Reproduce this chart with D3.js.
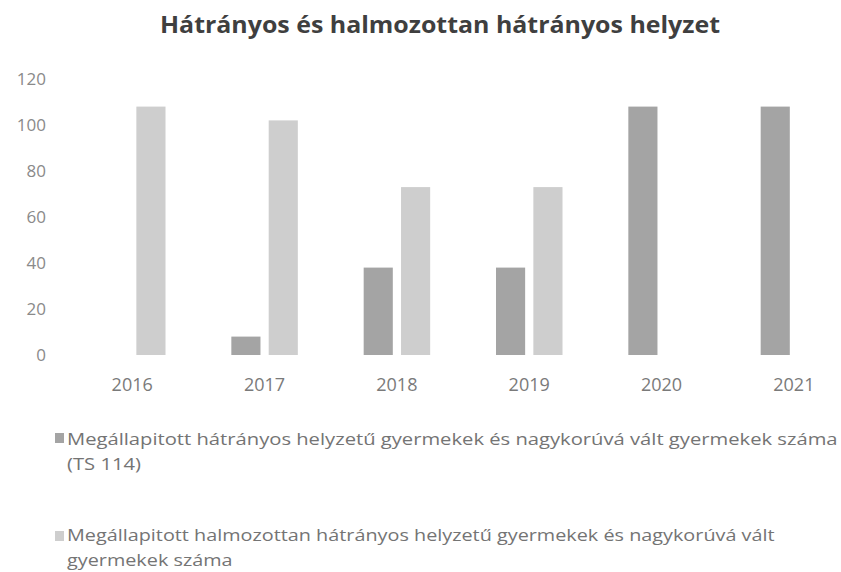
<!DOCTYPE html>
<html>
<head>
<meta charset="utf-8">
<script src="https://cdn.jsdelivr.net/npm/d3@7"></script>
<style>
  html, body { margin: 0; padding: 0; background: #fff; }
  svg { display: block; }
</style>
</head>
<body>
<svg id="chart" width="841" height="572"></svg>
<script>
const title = "Hátrányos és halmozottan hátrányos helyzet";
const years = ["2016", "2017", "2018", "2019", "2020", "2021"];
const seriesNames = [
  ["Megállapitott hátrányos helyzetű gyermekek és nagykorúvá vált gyermekek száma", "(TS 114)"],
  ["Megállapitott halmozottan hátrányos helyzetű gyermekek és nagykorúvá vált", "gyermekek száma"]
];
const hhValues = [0, 8, 38, 38, 108, 108];
const hhhValues = [108, 102, 73, 73, 0, 0];
const yTicks = [0, 20, 40, 60, 80, 100, 120];
const colors = ["#a4a4a4", "#cecece"];

const svg = d3.select("#chart");
const font = "'Open Sans', 'Noto Sans', sans-serif";

const rows = years.map((y, i) => ({ year: y, vals: [hhValues[i], hhhValues[i]] }));

const x0 = d3.scaleBand().domain(years).range([66, 860]).padding(0);
const x1 = d3.scaleBand().domain([0, 1]).range([33, 99.5]).paddingInner(0.22).paddingOuter(0);
const y = d3.scaleLinear().domain([0, 120]).range([355, 79]);

// title
svg.append("text")
  .attr("x", 440).attr("y", 33)
  .attr("text-anchor", "middle")
  .attr("font-family", font).attr("font-weight", "bold")
  .attr("font-size", 24).attr("fill", "#3f3f3f")
  .attr("textLength", 560).attr("lengthAdjust", "spacingAndGlyphs")
  .text(title);

// y axis
const yAxis = svg.append("g")
  .attr("transform", "translate(46,0)")
  .call(d3.axisLeft(y).tickValues(yTicks).tickSize(0).tickPadding(0));
yAxis.select(".domain").remove();
yAxis.selectAll("text")
  .attr("font-family", font).attr("font-size", 17).attr("fill", "#8a8a8a");

// x axis labels
const xAxis = svg.append("g")
  .attr("transform", "translate(0,375)")
  .call(d3.axisBottom(x0).tickSize(0).tickPadding(0));
xAxis.select(".domain").remove();
xAxis.selectAll("text")
  .attr("font-family", font).attr("font-size", 18).attr("fill", "#7a7a7a")
  .attr("dy", "0.9em");

// bars
const groups = svg.append("g").selectAll("g")
  .data(rows).join("g")
  .attr("transform", d => `translate(${x0(d.year)},0)`);
groups.selectAll("rect")
  .data(d => d.vals.map((v, k) => ({ v, k })).filter(e => e.v > 0))
  .join("rect")
  .attr("x", e => x1(e.k))
  .attr("width", x1.bandwidth())
  .attr("y", e => y(e.v))
  .attr("height", e => y(0) - y(e.v))
  .attr("fill", e => colors[e.k]);

// legend
const legendPos = [
  { my: 433, ty: 445, w: 771 },
  { my: 531, ty: 541, w: 708 }
];
seriesNames.forEach((lines, k) => {
  const p = legendPos[k];
  svg.append("rect")
    .attr("x", 55).attr("y", p.my).attr("width", 9).attr("height", 10)
    .attr("fill", colors[k]);
  const g = svg.append("g");
  const t = g.append("text")
    .attr("font-family", font).attr("font-size", 17).attr("fill", "#747474");
  lines.forEach((ln, j) => {
    t.append("tspan").attr("x", 0).attr("y", p.ty + j * 25).text(ln);
  });
  const natural = t.select("tspan").node().getComputedTextLength();
  const s = p.w / natural;
  g.attr("transform", `translate(67,0) scale(${s},1)`);
});
</script>
</body>
</html>
